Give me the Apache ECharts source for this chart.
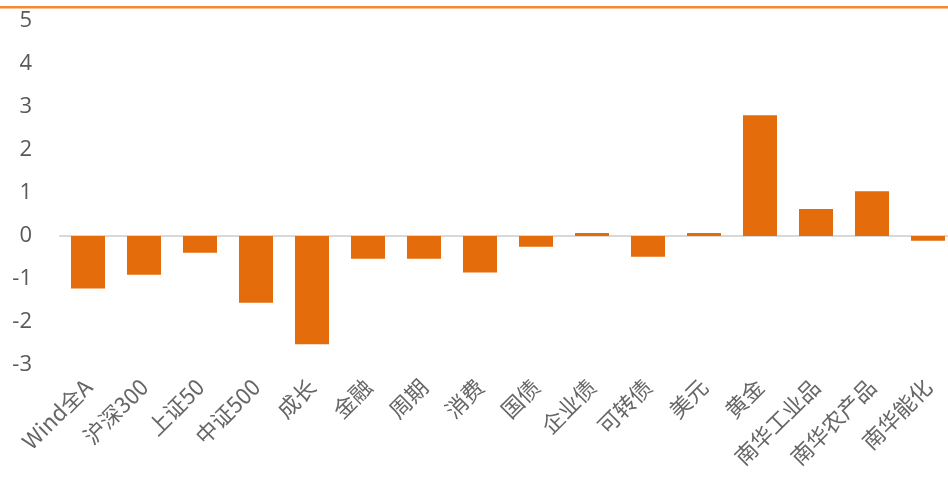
<!DOCTYPE html>
<html><head><meta charset="utf-8">
<script src="https://cdn.jsdelivr.net/npm/echarts@6/dist/echarts.min.js"></script>
<style>html,body{margin:0;padding:0;background:#fff}#c{width:948px;height:477px}</style>
</head><body><div id="c"></div>
<script>
const categories = ['Wind全A','沪深300','上证50','中证500','成长','金融','周期','消费','国债','企业债','可转债','美元','黄金','南华工业品','南华农产品','南华能化'];
const values = [-1.22,-0.90,-0.39,-1.55,-2.52,-0.53,-0.53,-0.85,-0.25,0.07,-0.48,0.07,2.81,0.63,1.04,-0.11];
const yTicks = {min:-3, max:5, interval:1};

const chart = echarts.init(document.getElementById('c'));
chart.setOption({
  animation:false,
  backgroundColor:'#fff',
  graphic:[{type:'rect', left:0, top:6, shape:{width:948,height:2.5}, style:{fill:'#F28A30'}, silent:true}],
  grid:{left:60, top:21, width:896, height:344, outerBoundsMode:'none', containLabel:false},
  xAxis:[{
    type:'category', data:categories, position:'bottom',
    axisLine:{show:false, onZero:false}, axisTick:{show:false},
    axisLabel:{rotate:45, interval:0, margin:18, fontSize:22, color:'#666666',
      fontFamily:'"Noto Sans CJK SC", "Noto Sans", sans-serif'}
  },{
    type:'category', data:categories,
    axisLine:{show:true, onZero:true, lineStyle:{color:'#d9d9d9', width:2}},
    axisTick:{show:false}, axisLabel:{show:false}
  }],
  yAxis:{type:'value', min:yTicks.min, max:yTicks.max, interval:yTicks.interval,
    axisLine:{show:false}, axisTick:{show:false}, splitLine:{show:false},
    axisLabel:{margin:28, fontSize:22, color:'#595959', fontFamily:'"Open Sans", "Noto Sans", sans-serif'}},
  series:[{type:'bar', data:values, barWidth:34, xAxisIndex:0, itemStyle:{color:'#E46C0A'}}]
});
</script></body></html>
